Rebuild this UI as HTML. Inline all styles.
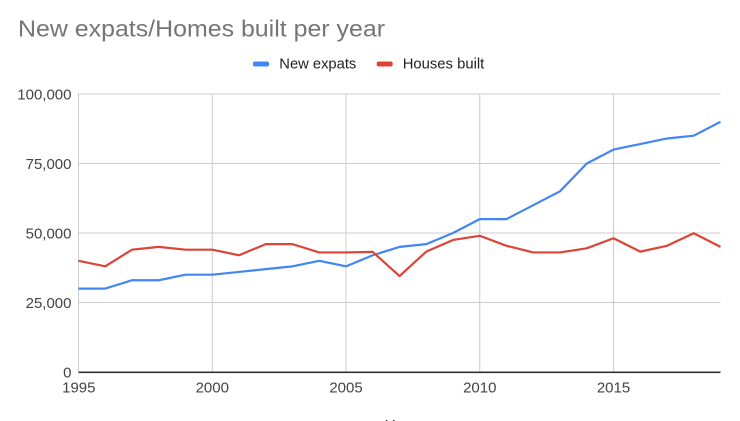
<!DOCTYPE html>
<html><head><meta charset="utf-8"><style>
html,body{margin:0;padding:0;background:#fff;}
svg{display:block;}
text{font-family:"Liberation Sans",Arial,sans-serif;}
</style></head><body>
<svg width="740" height="421" viewBox="0 0 740 421" xmlns="http://www.w3.org/2000/svg">
<rect width="740" height="421" fill="#fff"/>
<text x="18" y="36.5" font-size="23.5" fill="#757575" textLength="367" lengthAdjust="spacingAndGlyphs">New expats/Homes built per year</text>
<rect x="253" y="61.5" width="16" height="5" rx="2" fill="#4285F4"/>
<text x="279.3" y="68.3" font-size="15" fill="#222" textLength="77" lengthAdjust="spacingAndGlyphs">New expats</text>
<rect x="376.7" y="61.5" width="16" height="5" rx="2" fill="#DB4437"/>
<text x="402.7" y="68.3" font-size="15" fill="#222" textLength="81.6" lengthAdjust="spacingAndGlyphs">Houses built</text>
<g stroke="#cccccc" stroke-width="1" fill="none">
<line x1="78.5" y1="94" x2="720.5" y2="94"/>
<line x1="78.5" y1="163.5" x2="720.5" y2="163.5"/>
<line x1="78.5" y1="233" x2="720.5" y2="233"/>
<line x1="78.5" y1="302.5" x2="720.5" y2="302.5"/>
<line x1="78.5" y1="94" x2="78.5" y2="372"/>
<line x1="212.25" y1="94" x2="212.25" y2="372"/>
<line x1="346" y1="94" x2="346" y2="372"/>
<line x1="479.75" y1="94" x2="479.75" y2="372"/>
<line x1="613.5" y1="94" x2="613.5" y2="372"/>
</g>
<g font-size="15" fill="#444" text-anchor="end">
<text x="71.5" y="99.3">100,000</text>
<text x="71.5" y="168.8">75,000</text>
<text x="71.5" y="238.3">50,000</text>
<text x="71.5" y="307.8">25,000</text>
<text x="71.5" y="377.3">0</text>
</g>
<g font-size="15" fill="#444" text-anchor="middle">
<text x="78.8" y="392.5">1995</text>
<text x="212.25" y="392.5">2000</text>
<text x="346" y="392.5">2005</text>
<text x="479.75" y="392.5">2010</text>
<text x="613.5" y="392.5">2015</text>
</g>
<text x="399.5" y="430" font-size="15" fill="#222" text-anchor="middle" font-style="italic">Year</text>
<polyline fill="none" stroke="#4285F4" stroke-width="2.2" stroke-linejoin="round" points="78.5,288.6 105.25,288.6 132,280.26 158.75,280.26 185.5,274.7 212.25,274.7 239,271.92 265.75,269.14 292.5,266.36 319.25,260.8 346,266.36 372.75,255.24 399.5,246.9 426.25,244.12 453,233 479.75,219.1 506.5,219.1 533.25,205.2 560,191.3 586.75,163.5 613.5,149.6 640.25,144.04 667,138.48 693.75,135.7 720.5,121.8"/>
<polyline fill="none" stroke="#DB4437" stroke-width="2.2" stroke-linejoin="round" points="78.5,260.8 105.25,266.36 132,249.68 158.75,246.9 185.5,249.68 212.25,249.68 239,255.24 265.75,244.12 292.5,244.12 319.25,252.46 346,252.46 372.75,251.9 399.5,276.09 426.25,251.63 453,239.95 479.75,235.78 506.5,245.79 533.25,252.46 560,252.46 586.75,248.29 613.5,238.28 640.25,251.63 667,245.79 693.75,233.28 720.5,246.9"/>
<line x1="78.5" y1="372.3" x2="720.5" y2="372.3" stroke="#333" stroke-width="1.6"/>
</svg>
</body></html>
